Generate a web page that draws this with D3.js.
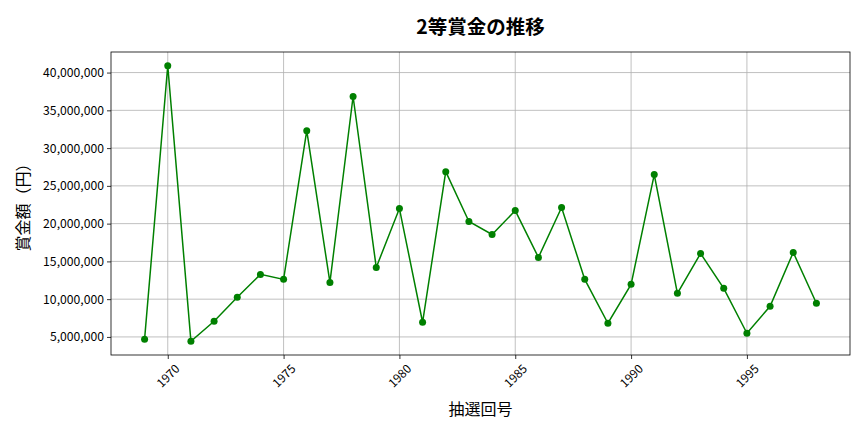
<!DOCTYPE html>
<html>
<head>
<meta charset="utf-8">
<script src="https://cdn.jsdelivr.net/npm/d3@7"></script>
<style>
  html, body { margin: 0; padding: 0; background: #fff; }
  svg { display: block; font-family: "Noto Sans CJK JP", "Noto Sans", sans-serif; }
</style>
</head>
<body>
<svg id="chart" width="864" height="432"></svg>
<script>
const years = [1969,1970,1971,1972,1973,1974,1975,1976,1977,1978,1979,1980,1981,1982,1983,1984,1985,1986,1987,1988,1989,1990,1991,1992,1993,1994,1995,1996,1997,1998];
const prizes = [4700000,40900000,4430000,7070000,10240000,13280000,12620000,32300000,12220000,36830000,14200000,22000000,6940000,26880000,20280000,18560000,21730000,15530000,22130000,12620000,6810000,11960000,26490000,10770000,16050000,11430000,5490000,9050000,16190000,9450000];
const xTicks = [1970,1975,1980,1985,1990,1995];
const yTicks = [5000000,10000000,15000000,20000000,25000000,30000000,35000000,40000000];
const titleText = "2等賞金の推移";
const xLabel = "抽選回号";
const yLabel = "賞金額（円）";

const FONT = '"Noto Sans CJK JP", "Noto Sans", sans-serif';
const svg = d3.select("#chart");
const m = {left: 111, right: 850, top: 52, bottom: 355};

const xMin = d3.min(years), xMax = d3.max(years);
const xPad = (xMax - xMin) * 0.05;
const x = d3.scaleLinear().domain([xMin - xPad, xMax + xPad]).range([m.left, m.right]);
const yMin = d3.min(prizes), yMax = d3.max(prizes);
const yPad = (yMax - yMin) * 0.05;
const y = d3.scaleLinear().domain([yMin - yPad, yMax + yPad]).range([m.bottom, m.top]);

// grid
const g = svg.append("g");
g.selectAll("line.vg").data(xTicks).enter().append("line")
  .attr("x1", d => x(d)).attr("x2", d => x(d))
  .attr("y1", m.top).attr("y2", m.bottom)
  .attr("stroke", "#b0b0b0").attr("stroke-width", 0.8);
g.selectAll("line.hg").data(yTicks).enter().append("line")
  .attr("x1", m.left).attr("x2", m.right)
  .attr("y1", d => y(d)).attr("y2", d => y(d))
  .attr("stroke", "#b0b0b0").attr("stroke-width", 0.8);

// axes
const xAxis = d3.axisBottom(x).tickValues(xTicks).tickSize(4).tickPadding(3).tickFormat(d3.format("d"));
const xg = svg.append("g").attr("transform", `translate(0,${m.bottom})`).call(xAxis)
  .attr("font-family", FONT);
xg.select(".domain").remove();
xg.selectAll(".tick line").attr("stroke", "#000").attr("stroke-width", 0.8);
xg.selectAll(".tick text")
  .attr("font-size", 12).attr("fill", "#000")
  .attr("text-anchor", "middle").attr("dy", null).attr("y", null)
  .attr("dominant-baseline", "central")
  .attr("transform", "translate(-1,20) rotate(-45)");

const yAxis = d3.axisLeft(y).tickValues(yTicks).tickSize(4).tickPadding(3).tickFormat(d3.format(","));
const yg = svg.append("g").attr("transform", `translate(${m.left},0)`).call(yAxis)
  .attr("font-family", FONT);
yg.select(".domain").remove();
yg.selectAll(".tick line").attr("stroke", "#000").attr("stroke-width", 0.8);
yg.selectAll(".tick text").attr("font-size", 12.2).attr("fill", "#000");

// frame
svg.append("rect").attr("x", m.left).attr("y", m.top)
  .attr("width", m.right - m.left).attr("height", m.bottom - m.top)
  .attr("fill", "none").attr("stroke", "#000").attr("stroke-width", 0.8);

// line
const data = years.map((yr, i) => ({yr, v: prizes[i]}));
svg.append("path").datum(data)
  .attr("fill", "none").attr("stroke", "green").attr("stroke-width", 1.5)
  .attr("d", d3.line().x(d => x(d.yr)).y(d => y(d.v)));
svg.selectAll("circle.pt").data(data).enter().append("circle")
  .attr("cx", d => x(d.yr)).attr("cy", d => y(d.v)).attr("r", 3.5)
  .attr("fill", "green");

// labels
svg.append("text").attr("x", (m.left + m.right) / 2).attr("y", 25)
  .attr("text-anchor", "middle").attr("dominant-baseline", "central")
  .attr("font-size", 19.5).attr("font-weight", "bold").text(titleText);
svg.append("text").attr("x", (m.left + m.right) / 2).attr("y", 408)
  .attr("text-anchor", "middle").attr("dominant-baseline", "central")
  .attr("font-size", 16).text(xLabel);
svg.append("text").attr("transform", `translate(22,${(m.top + m.bottom) / 2}) rotate(-90)`)
  .attr("text-anchor", "middle").attr("dominant-baseline", "central")
  .attr("font-size", 16).text(yLabel);
</script>
</body>
</html>
